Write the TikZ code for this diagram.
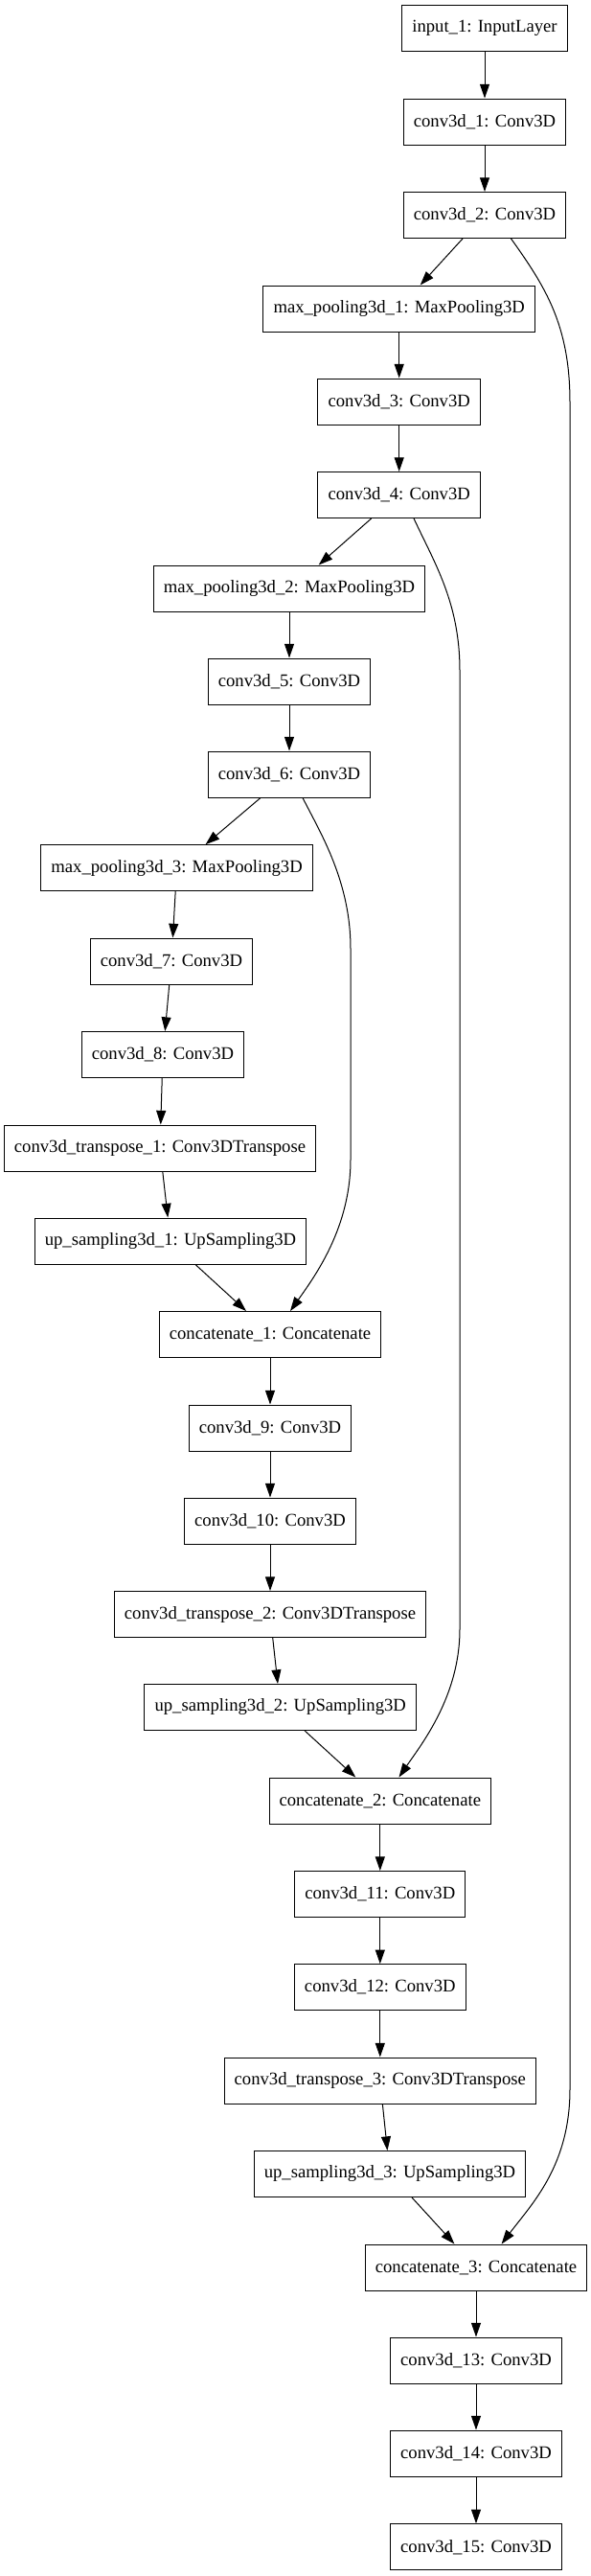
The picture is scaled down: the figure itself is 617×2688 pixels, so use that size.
\documentclass[tikz,border=0pt]{standalone}
\usepackage{fontspec}
\setmainfont{Liberation Serif}
\usetikzlibrary{arrows.meta}

\tikzset{
  layer/.style={draw, line width=0.75pt, rectangle, minimum height=36pt,
    inner xsep=7.92pt, font=\fontsize{14pt}{16pt}\selectfont},
  flow/.style={line width=0.75pt, -{Triangle[length=11pt,width=7.5pt]}}
}

\begin{document}
\begin{tikzpicture}[x=0.75pt,y=-0.75pt]
  \useasboundingbox (0,0) rectangle (617,2688);
  % encoder
  \node[layer] (in)  at (506,29.5)   {input\_1: InputLayer};
  \node[layer] (c1)  at (506,127)    {conv3d\_1: Conv3D};
  \node[layer] (c2)  at (506,224.5)  {conv3d\_2: Conv3D};
  \node[layer] (mp1) at (416.7,322)  {max\_pooling3d\_1: MaxPooling3D};
  \node[layer] (c3)  at (416.7,419)  {conv3d\_3: Conv3D};
  \node[layer] (c4)  at (416.7,516.5) {conv3d\_4: Conv3D};
  \node[layer] (mp2) at (302,614)    {max\_pooling3d\_2: MaxPooling3D};
  \node[layer] (c5)  at (302,711)    {conv3d\_5: Conv3D};
  \node[layer] (c6)  at (302,808)    {conv3d\_6: Conv3D};
  \node[layer] (mp3) at (184.6,905.7) {max\_pooling3d\_3: MaxPooling3D};
  \node[layer] (c7)  at (179,1003)   {conv3d\_7: Conv3D};
  \node[layer] (c8)  at (170,1100.5) {conv3d\_8: Conv3D};
  % decoder
  \node[layer] (t1)   at (167,1198)   {conv3d\_transpose\_1: Conv3DTranspose};
  \node[layer] (up1)  at (178,1295)   {up\_sampling3d\_1: UpSampling3D};
  \node[layer] (cat1) at (282,1392.5) {concatenate\_1: Concatenate};
  \node[layer] (c9)   at (282,1490)   {conv3d\_9: Conv3D};
  \node[layer] (c10)  at (282,1587)   {conv3d\_10: Conv3D};
  \node[layer] (t2)   at (282,1684.5) {conv3d\_transpose\_2: Conv3DTranspose};
  \node[layer] (up2)  at (292.7,1781.5) {up\_sampling3d\_2: UpSampling3D};
  \node[layer] (cat2) at (396.8,1879) {concatenate\_2: Concatenate};
  \node[layer] (c11)  at (396.8,1976.5) {conv3d\_11: Conv3D};
  \node[layer] (c12)  at (396.8,2073.7) {conv3d\_12: Conv3D};
  \node[layer] (t3)   at (396.8,2171) {conv3d\_transpose\_3: Conv3DTranspose};
  \node[layer] (up3)  at (407,2268.5) {up\_sampling3d\_3: UpSampling3D};
  \node[layer] (cat3) at (497,2366)   {concatenate\_3: Concatenate};
  \node[layer] (c13)  at (497,2463)   {conv3d\_13: Conv3D};
  \node[layer] (c14)  at (497,2560)   {conv3d\_14: Conv3D};
  \node[layer] (c15)  at (497,2657.7) {conv3d\_15: Conv3D};

  % main chain
  \draw[flow] (in) -- (c1);
  \draw[flow] (c1) -- (c2);
  \draw[flow] ([shift={(-23,0)}]c2.south) -- ([shift={(22,0)}]mp1.north);
  \draw[flow] (mp1) -- (c3);
  \draw[flow] (c3) -- (c4);
  \draw[flow] ([shift={(-29,0)}]c4.south) -- ([shift={(30.7,0)}]mp2.north);
  \draw[flow] (mp2) -- (c5);
  \draw[flow] (c5) -- (c6);
  \draw[flow] ([shift={(-30,0)}]c6.south) -- ([shift={(30,0)}]mp3.north);
  \draw[flow] (mp3) -- (c7);
  \draw[flow] (c7) -- (c8);
  \draw[flow] (c8) -- (t1);
  \draw[flow] (t1) -- (up1);
  \draw[flow] ([shift={(26,0)}]up1.south) -- ([shift={(-25,0)}]cat1.north);
  \draw[flow] (cat1) -- (c9);
  \draw[flow] (c9) -- (c10);
  \draw[flow] (c10) -- (t2);
  \draw[flow] (t2) -- (up2);
  \draw[flow] ([shift={(25.5,0)}]up2.south) -- ([shift={(-25.5,0)}]cat2.north);
  \draw[flow] (cat2) -- (c11);
  \draw[flow] (c11) -- (c12);
  \draw[flow] (c12) -- (t3);
  \draw[flow] (t3) -- (up3);
  \draw[flow] ([shift={(23,0)}]up3.south) -- ([shift={(-22.6,0)}]cat3.north);
  \draw[flow] (cat3) -- (c13);
  \draw[flow] (c13) -- (c14);
  \draw[flow] (c14) -- (c15);

  % skip connections
  \draw[flow] ([shift={(14,0)}]c6.south)
    .. controls (335,870) and (366,920) .. (366,990) -- (366,1210)
    .. controls (366,1280) and (330,1330) .. ([shift={(21,0)}]cat1.north);
  \draw[flow] ([shift={(15.3,0)}]c4.south)
    .. controls (455,590) and (480,630) .. (480,700) -- (480,1700)
    .. controls (480,1770) and (440,1820) .. ([shift={(19.7,0)}]cat2.north);
  \draw[flow] ([shift={(27.5,0)}]c2.south)
    .. controls (570,300) and (595,340) .. (595,420) -- (595,2180)
    .. controls (595,2260) and (555,2300) .. ([shift={(26.6,0)}]cat3.north);
\end{tikzpicture}
\end{document}
